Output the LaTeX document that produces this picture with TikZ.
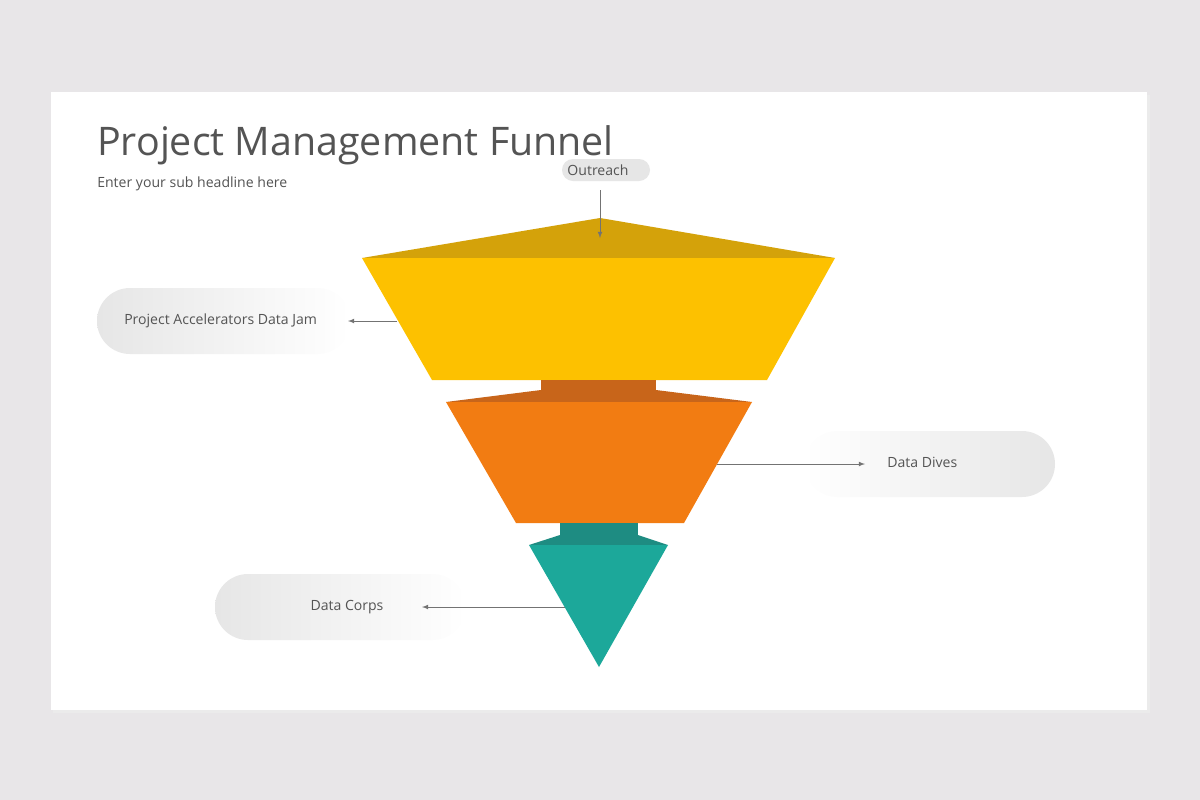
\documentclass[tikz,border=0pt]{standalone}
\usepackage{fontspec}
\setmainfont{Open Sans}
\begin{document}
\begin{tikzpicture}[x=0.25mm,y=-0.25mm,
  txt/.style={text=black!67, font=\fontsize{10}{12}\selectfont, inner sep=0pt},
  arr/.style={draw=black!55, line width=0.5pt, -latex}]
\definecolor{bg}{HTML}{E8E6E8}
\definecolor{gold}{HTML}{D4A20A}
\definecolor{yel}{HTML}{FDC100}
\definecolor{brn}{HTML}{C8651A}
\definecolor{org}{HTML}{F27C12}
\definecolor{dteal}{HTML}{1E8C82}
\definecolor{teal}{HTML}{1CA89A}
\definecolor{pill}{HTML}{E6E6E6}
\useasboundingbox (0,0) rectangle (1200,800);
\fill[bg] (0,0) rectangle (1200,800);
\fill[black!8] (53,95) rectangle (1150,713);
\fill[white] (51,92) rectangle (1147,710);
\node[txt, anchor=base west, font=\fontsize{28}{32}\selectfont] (title) at (97,155) {Project Management Funnel};
\node[txt, anchor=base west] (sub) at (97,187) {Enter your sub headline here};
% funnel
\fill[gold] (362,258) -- (600,218) -- (835,258) -- cycle;
\fill[yel] (362,258) -- (835,258) -- (767,380) -- (432,380) -- cycle;
\fill[brn] (541,380) rectangle (656,392);
\fill[brn] (446,402) -- (541,390) -- (656,390) -- (752,402) -- cycle;
\fill[org] (446,402) -- (752,402) -- (684,523) -- (516,523) -- cycle;
\fill[dteal] (560,523) rectangle (638,537);
\fill[dteal] (529,545) -- (560,535) -- (638,535) -- (668,545) -- cycle;
\fill[teal] (529,545) -- (668,545) -- (599,667) -- cycle;
% pills
\shade[left color=pill, right color=white, rounded corners=33*0.25mm] (97,288) rectangle (350,354);
\shade[left color=white, right color=pill, rounded corners=33*0.25mm] (805,431) rectangle (1055,497);
\shade[left color=pill, right color=white, rounded corners=33*0.25mm] (215,574) rectangle (465,640);
\fill[pill, rounded corners=11*0.25mm] (562,159) rectangle (650,181);
\node[txt] (out) at (598,170) {Outreach};
\node[txt, anchor=west] (pa) at (124,321) {Project Accelerators Data Jam};
\node[txt, anchor=west] (dd) at (887,462) {Data Dives};
\node[txt] (dc) at (347,607) {Data Corps};
\coordinate (o1) at (600,190);
\coordinate (o2) at (600,238);
\coordinate (p1) at (397,321);
\coordinate (p2) at (348,321);
\coordinate (d1) at (717,464);
\coordinate (d2) at (865,464);
\coordinate (c1) at (565,607);
\coordinate (c2) at (422,607);
\draw[arr] (o1) -- (o2);
\draw[arr] (p1) -- (p2);
\draw[arr] (d1) -- (d2);
\draw[arr] (c1) -- (c2);
\end{tikzpicture}
\end{document}
